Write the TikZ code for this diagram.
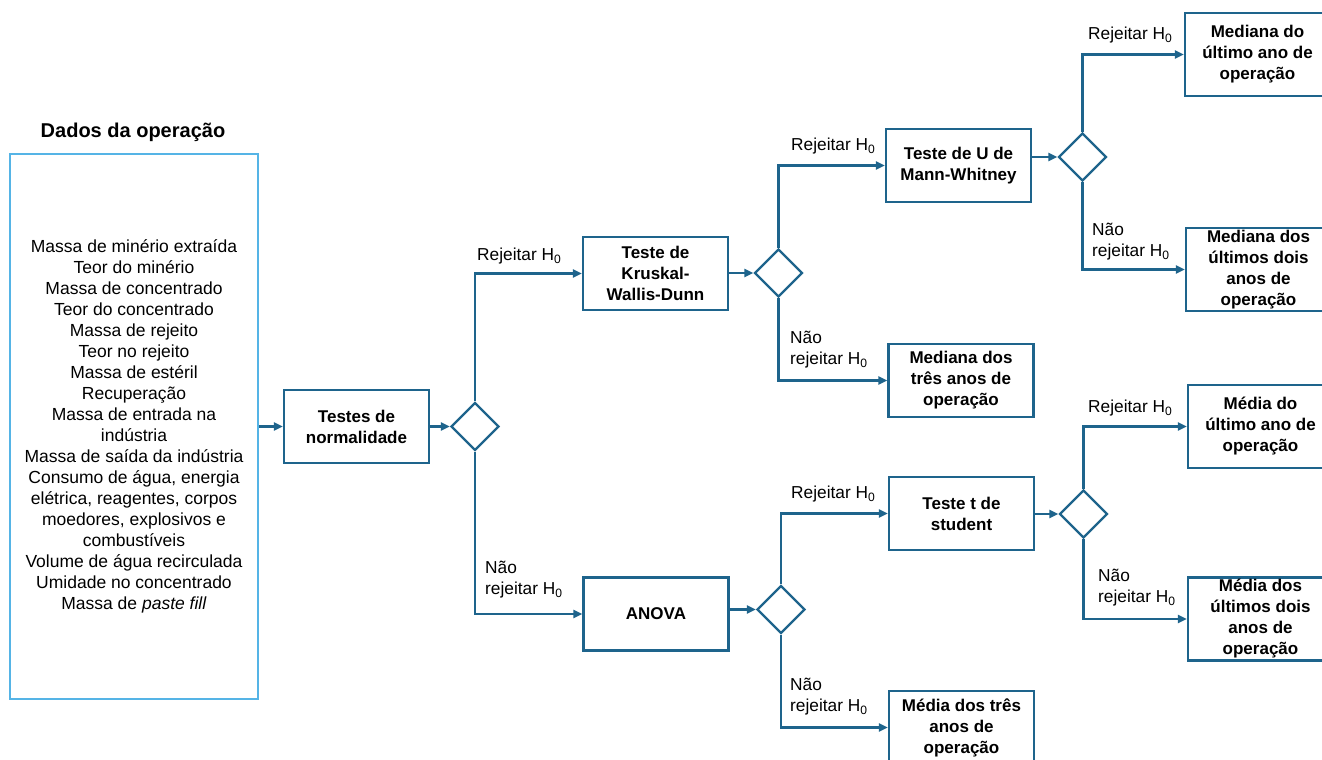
\documentclass[tikz,border=0pt]{standalone}
\usepackage{fontspec}
\setmainfont{Liberation Sans}
\usetikzlibrary{shapes.geometric,arrows.meta}
\definecolor{flow}{RGB}{30,100,140}
\definecolor{sky}{RGB}{85,180,230}
\begin{document}
\begin{tikzpicture}[x=1pt,y=-1pt,
  box/.style={draw=flow,line width=2.3pt,minimum width=145pt,minimum height=73pt,
    inner sep=0pt,align=center,font=\bfseries\fontsize{17}{21}\selectfont},
  tallbox/.style={box,minimum height=83pt},
  decision/.style={draw=flow,line width=2.3pt,diamond,aspect=1,
    minimum width=48pt,minimum height=48pt,inner sep=0pt},
  link/.style={draw=flow,line width=2.3pt,-{Triangle[length=9pt,width=8pt]}},
  lbl/.style={anchor=west,inner sep=0pt,align=left,font=\fontsize{17.3}{21}\selectfont}]
\useasboundingbox (0,0) rectangle (1322,760);
\clip (0,0) rectangle (1322,760);

% input data
\node[font=\bfseries\fontsize{20}{24}\selectfont] (title) at (133,132) {Dados da operação};
\node[draw=sky,line width=2.3pt,minimum width=248pt,minimum height=545pt,inner sep=0pt,
  align=center,font=\fontsize{17.5}{21}\selectfont] (data) at (134,426.5)
  {Massa de minério extraída\\Teor do minério\\Massa de concentrado\\Teor do concentrado\\
   Massa de rejeito\\Teor no rejeito\\Massa de estéril\\Recuperação\\Massa de entrada na\\
   indústria\\Massa de saída da indústria\\Consumo de água, energia\\elétrica, reagentes, corpos\\
   moedores, explosivos e\\combustíveis\\Volume de água recirculada\\Umidade no concentrado\\
   Massa de \textit{paste fill}};

% tests
\node[box] (norm) at (356.5,426.5) {Testes de\\normalidade};
\node[box] (kw) at (655.5,273.5) {Teste de\\Kruskal-\\Wallis-Dunn};
\node[box] (anova) at (656,614) {ANOVA};
\node[box] (mw) at (958.5,165.5) {Teste de U de\\Mann-Whitney};
\node[box] (tt) at (961.5,513.5) {Teste t de\\student};

% results
\node[box] (med3) at (961,380.5) {Mediana dos\\três anos de\\operação};
\node[box] (mean3) at (961.5,727.5) {Média dos três\\anos de\\operação};
\node[tallbox] (med1) at (1257.5,54.5) {Mediana do\\último ano de\\operação};
\node[tallbox] (med2) at (1258.5,269.5) {Mediana dos\\últimos dois\\anos de\\operação};
\node[tallbox] (mean1) at (1260.5,426.5) {Média do\\último ano de\\operação};
\node[tallbox] (mean2) at (1260.5,619) {Média dos\\últimos dois\\anos de\\operação};

% decisions
\node[decision] (d1) at (475,426.5) {};
\node[decision] (d2) at (778.5,273) {};
\node[decision] (d3) at (1082.5,157) {};
\node[decision] (d4) at (781,609.5) {};
\node[decision] (d5) at (1083.5,514) {};

% connectors
\draw[link] (data.east) -- (norm.west);
\draw[link] (norm.east) -- (d1.west);
\draw[link] (d1.north) |- (kw.west);
\draw[link] (d1.south) |- (anova.west);
\draw[link] (kw.east |- d2.west) -- (d2.west);
\draw[link] (d2.north) |- (mw.west);
\draw[link] (d2.south) |- (med3.west);
\draw[link] (mw.east |- d3.west) -- (d3.west);
\draw[link] (d3.north) |- (med1.west);
\draw[link] (d3.south) |- (med2.west);
\draw[link] (anova.east |- d4.west) -- (d4.west);
\draw[link] (d4.north) |- (tt.west);
\draw[link] (d4.south) |- (mean3.west);
\draw[link] (tt.east |- d5.west) -- (d5.west);
\draw[link] (d5.north) |- (mean1.west);
\draw[link] (d5.south) |- (mean2.west);

% branch labels
\node[lbl] (r1) at (477,256) {Rejeitar H\textsubscript{0}};
\node[lbl] (n1) at (485,579.5) {Não\\rejeitar H\textsubscript{0}};
\node[lbl] (r2) at (791,146) {Rejeitar H\textsubscript{0}};
\node[lbl] (n2) at (790,350) {Não\\rejeitar H\textsubscript{0}};
\node[lbl] (r3) at (1088,35) {Rejeitar H\textsubscript{0}};
\node[lbl] (n3) at (1092,242) {Não\\rejeitar H\textsubscript{0}};
\node[lbl] (r4) at (791,494) {Rejeitar H\textsubscript{0}};
\node[lbl] (n4) at (790,696.5) {Não\\rejeitar H\textsubscript{0}};
\node[lbl] (r5) at (1088,408) {Rejeitar H\textsubscript{0}};
\node[lbl] (n5) at (1098,587.5) {Não\\rejeitar H\textsubscript{0}};
\end{tikzpicture}
\end{document}
